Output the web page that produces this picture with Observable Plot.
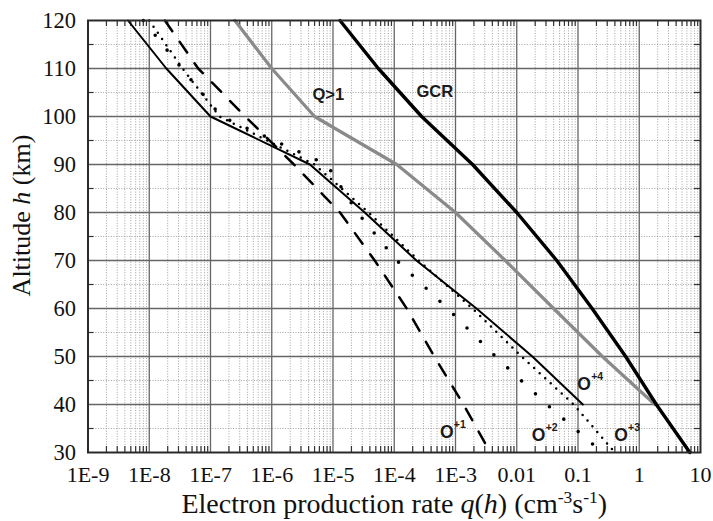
<!DOCTYPE html>
<html><head><meta charset="utf-8">
<script src="https://cdn.jsdelivr.net/npm/d3@7"></script>
<script src="https://cdn.jsdelivr.net/npm/@observablehq/plot@0.6"></script>
<style>body{margin:0;background:#fff} #chart{width:713px;height:521px}</style>
</head><body><div id="chart"></div>
<script>
// ---- data ----
const altitudes = [120, 110, 100, 90, 80, 70, 60, 50, 40, 30];
const gcr     = [1.3e-5, 5.5e-5, 2.8e-4, 1.9e-3, 0.01, 0.045, 0.17, 0.6, 1.9, 6.7];
const qAbove1 = [2.5e-7, 1e-6, 5e-6, 1.1e-4, 1e-3, 6.5e-3, 0.04, 0.25, 1.8];
const oPlus1  = [1.8e-8, 6.3e-8, 3.7e-7, 2.3e-6, 1.3e-5, 4.8e-5, 1.6e-4, 4.5e-4, 1.35e-3, 3.7e-3];
const oPlus2  = [8e-9, 3.4e-8, 1.5e-7, 7.9e-6, 2.5e-5, 1.1e-4, 7.4e-4, 4.5e-3, 0.031, 0.25];
const oPlus3  = [1e-8, 3.5e-8, 1.4e-7, 5e-6, 3.8e-5, 2.5e-4, 1.9e-3, 0.012, 0.085, 0.4];
const oPlus4  = [4.5e-9, 1.9e-8, 1e-7, 4.2e-6, 3.3e-5, 2.3e-4, 2.2e-3, 0.018, 0.12];

const xTickValues = [1e-9, 1e-8, 1e-7, 1e-6, 1e-5, 1e-4, 1e-3, 1e-2, 1e-1, 1, 10];
const xTickLabels = ["1E-9", "1E-8", "1E-7", "1E-6", "1E-5", "1E-4", "1E-3", "0.01", "0.1", "1", "10"];
const yTickValues = [30, 40, 50, 60, 70, 80, 90, 100, 110, 120];
const yMinorValues = [35, 45, 55, 65, 75, 85, 95, 105, 115];
const minorMultipliers = [2, 3, 4, 5, 6, 7, 8, 9];

const curveLabels = ["Q>1", "GCR"];
const curveLabelQ = [8.4e-6, 4.6e-4];
const curveLabelH = [104.6, 105.1];
const ionLabels = ["O", "O", "O", "O"];
const ionCharges = ["+1", "+2", "+3", "+4"];
const ionLabelQ = [7.2e-4, 0.0228, 0.505, 0.126];
const ionLabelH = [34.2, 33.6, 33.6, 44.1];

const xTitle = "Electron production rate q(h) (cm-3s-1)";
const yTitle = "Altitude h (km)";

// ---- build tables ----
const seriesList = [
  {name: "GCR", values: gcr},
  {name: "Q>1", values: qAbove1},
  {name: "O+1", values: oPlus1},
  {name: "O+2", values: oPlus2},
  {name: "O+3", values: oPlus3},
  {name: "O+4", values: oPlus4}
];
const rows = seriesList.flatMap(s => s.values.map((v, i) => ({series: s.name, h: altitudes[i], q: v})));
const of = name => rows.filter(r => r.series === name);

const xMinor = xTickValues.slice(0, -1).flatMap(d => minorMultipliers.map(m => d * m));
const xMajorInner = xTickValues.slice(1, -1);
const yMajorInner = yTickValues.slice(1, -1);

const W = 713, H = 521;
const mL = 87.5, mR = 13, mT = 20, mB = 69;
const plotW = W - mL - mR, plotH = H - mT - mB;

const labelFont = "Liberation Sans, Arial, sans-serif";
const serif = "Liberation Serif, Times New Roman, serif";

const chart = Plot.plot({
  width: W, height: H,
  marginLeft: mL, marginRight: mR, marginTop: mT, marginBottom: mB,
  style: {background: "#fff", color: "#111", fontFamily: serif, fontSize: "22px"},
  x: {type: "log", domain: [1e-9, 10], axis: null},
  y: {domain: [30, 120], axis: null},
  marks: [
    // minor grid
    Plot.ruleX(xMinor, {x: d => d, stroke: "#8c8c8c", strokeWidth: 0.8, strokeDasharray: "1,1.6"}),
    Plot.ruleY(yMinorValues, {y: d => d, stroke: "#8c8c8c", strokeWidth: 0.8, strokeDasharray: "1,1.6"}),
    // major grid
    Plot.ruleX(xMajorInner, {x: d => d, stroke: "#666", strokeWidth: 1.3}),
    Plot.ruleY(yMajorInner, {y: d => d, stroke: "#666", strokeWidth: 1.3}),
    // inward ticks
    Plot.tickX(xMinor, {x: d => d, insetTop: plotH - 6, stroke: "#333", strokeWidth: 1.2}),
    Plot.tickX(xMinor, {x: d => d, insetBottom: plotH - 6, stroke: "#333", strokeWidth: 1.2}),
    Plot.tickY(yMinorValues, {y: d => d, insetRight: plotW - 6, stroke: "#333", strokeWidth: 1.2}),
    Plot.tickY(yMinorValues, {y: d => d, insetLeft: plotW - 6, stroke: "#333", strokeWidth: 1.2}),
    // curves
    Plot.line(of("Q>1"), {x: "q", y: "h", stroke: "#8a8a8a", strokeWidth: 3.2}),
    Plot.line(of("GCR"), {x: "q", y: "h", stroke: "#000", strokeWidth: 3.4}),
    Plot.line(of("O+1"), {x: "q", y: "h", stroke: "#000", strokeWidth: 2.5, strokeDasharray: "13,13"}),
    Plot.line(of("O+2"), {x: "q", y: "h", stroke: "#000", strokeWidth: 3.6, strokeDasharray: "0,19", strokeLinecap: "round"}),
    Plot.line(of("O+3"), {x: "q", y: "h", stroke: "#000", strokeWidth: 2.5, strokeDasharray: "0,7.5", strokeLinecap: "round"}),
    Plot.line(of("O+4"), {x: "q", y: "h", stroke: "#000", strokeWidth: 2}),
    // frame
    Plot.frame({stroke: "#2a2a2a", strokeWidth: 2}),
    // axes
    Plot.axisX(xTickValues, {tickSize: 0, tickPadding: 14, fontSize: 22, fontFamily: serif, fill: "#111",
      tickFormat: d => xTickLabels[xTickValues.indexOf(d)], label: null}),
    Plot.axisY(yTickValues, {tickSize: 0, tickPadding: 12, fontSize: 22.5, fontFamily: serif, fill: "#111",
      tickFormat: d => String(d), label: null}),
    // curve labels
    Plot.text(curveLabels, {x: (d, i) => curveLabelQ[i], y: (d, i) => curveLabelH[i], text: d => d,
      fontFamily: labelFont, fontWeight: "bold", fontSize: 16.5, fill: "#1a1a1a"}),
    Plot.text(ionLabels, {x: (d, i) => ionLabelQ[i], y: (d, i) => ionLabelH[i], text: d => d,
      fontFamily: labelFont, fontWeight: "bold", fontSize: 17.5, fill: "#1a1a1a"}),
    Plot.text(ionCharges, {x: (d, i) => ionLabelQ[i], y: (d, i) => ionLabelH[i], text: d => d,
      dx: 13, dy: -8, fontFamily: labelFont, fontWeight: "bold", fontSize: 10.5, fill: "#1a1a1a"}),
    // axis titles
    Plot.text([xTitle], {frameAnchor: "bottom", textAnchor: "middle", lineAnchor: "middle", dy: 51.5,
      text: d => d, fontFamily: serif, fontSize: 28, fill: "#111"}),
    Plot.text([yTitle], {frameAnchor: "left", textAnchor: "middle", lineAnchor: "middle", dx: -66, dy: -21,
      rotate: -90, text: d => d, fontFamily: serif, fontSize: 26, fill: "#111"})
  ]
});

// rich formatting of axis titles (italic symbols, superscripts)
d3.select(chart).selectAll("text").each(function () {
  const t = this.textContent;
  const sel = d3.select(this);
  if (t === xTitle) {
    sel.text(null);
    sel.append("tspan").text("Electron production rate ");
    sel.append("tspan").attr("font-style", "italic").text("q");
    sel.append("tspan").text("(");
    sel.append("tspan").attr("font-style", "italic").text("h");
    sel.append("tspan").text(") (cm");
    sel.append("tspan").attr("font-size", 17.5).attr("dy", -10).text("-3");
    sel.append("tspan").attr("dy", 10).text("s");
    sel.append("tspan").attr("font-size", 17.5).attr("dy", -10).text("-1");
    sel.append("tspan").attr("dy", 10).text(")");
  } else if (t === yTitle) {
    sel.text(null);
    sel.append("tspan").text("Altitude ");
    sel.append("tspan").attr("font-style", "italic").text("h");
    sel.append("tspan").text(" (km)");
  }
});

document.getElementById("chart").appendChild(chart);
</script>
</body></html>
